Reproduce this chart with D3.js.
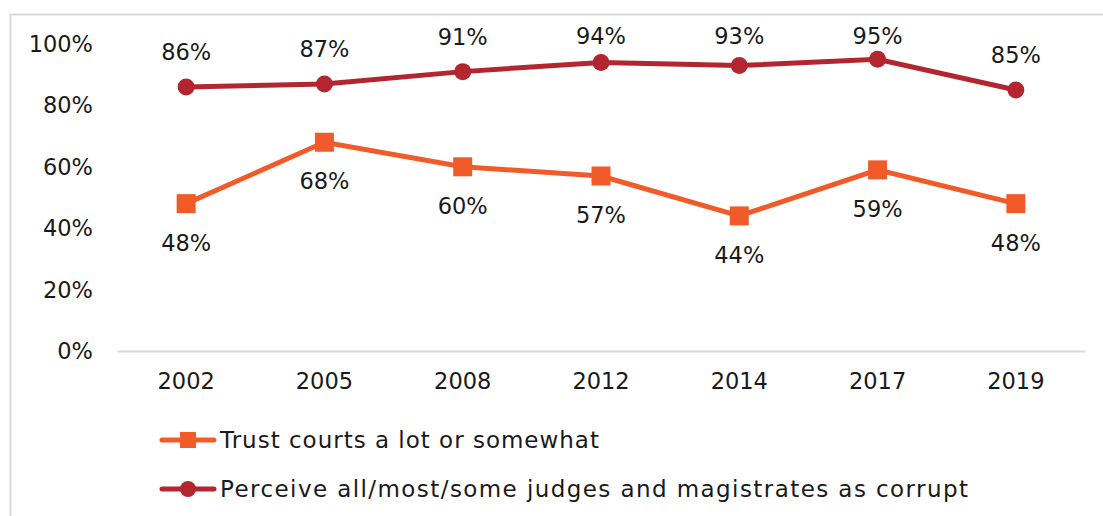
<!DOCTYPE html>
<html><head><meta charset="utf-8">
<script src="https://cdn.jsdelivr.net/npm/d3@7"></script>
<style>body{margin:0;background:#fff}svg{display:block}text{font-family:"DejaVu Sans",sans-serif;fill:#1a1a1a}</style>
</head><body>
<svg id="c" width="1103" height="516"></svg>
<script>
const years = ["2002","2005","2008","2012","2014","2017","2019"];
const trust = [48,68,60,57,44,59,48];
const corrupt = [86,87,91,94,93,95,85];
const yTicks = [0,20,40,60,80,100];
const seriesNames = ["Trust courts a lot or somewhat","Perceive all/most/some judges and magistrates as corrupt"];
const colors = ["#F15A29","#B3262F"];
const FS = "22.5px";

const svg = d3.select("#c");
svg.append("rect").attr("x",10.5).attr("y",14.5).attr("width",1110).attr("height",520)
  .attr("fill","none").attr("stroke","#d9d9d9").attr("stroke-width",2);

const x = d3.scaleBand().domain(years).range([117,1085]);
const y = d3.scaleLinear().domain([0,100]).range([351,44]);
const cx = d => x(d)+x.bandwidth()/2;

svg.append("g").selectAll("text").data(yTicks).join("text")
  .attr("x",93).attr("y",d=>y(d)).attr("text-anchor","end").attr("dominant-baseline","central")
  .style("font-size",FS).text(d=>d+"%");

const xa = svg.append("g").attr("transform","translate(0,351)").call(d3.axisBottom(x).tickSize(0).tickPadding(22));
xa.select(".domain").attr("stroke","#d9d9d9").attr("stroke-width",2);
xa.selectAll("text").style("font-size",FS).style("font-family","DejaVu Sans").attr("fill","#1a1a1a");

const line = d3.line().x((d,i)=>cx(years[i])).y(d=>y(d));

svg.append("path").datum(corrupt).attr("d",line).attr("fill","none").attr("stroke",colors[1]).attr("stroke-width",5);
svg.append("g").selectAll("circle").data(corrupt).join("circle")
  .attr("cx",(d,i)=>cx(years[i])).attr("cy",d=>y(d)).attr("r",8.5).attr("fill",colors[1]);
svg.append("g").selectAll("text").data(corrupt).join("text")
  .attr("x",(d,i)=>cx(years[i])).attr("y",d=>Math.max(y(d)-35,36)).attr("text-anchor","middle").attr("dominant-baseline","central")
  .style("font-size",FS).text(d=>d+"%");

svg.append("path").datum(trust).attr("d",line).attr("fill","none").attr("stroke",colors[0]).attr("stroke-width",5);
svg.append("g").selectAll("rect").data(trust).join("rect")
  .attr("x",(d,i)=>cx(years[i])-9.5).attr("y",d=>y(d)-9.5).attr("width",19).attr("height",19).attr("fill",colors[0]);
svg.append("g").selectAll("text").data(trust).join("text")
  .attr("x",(d,i)=>cx(years[i])).attr("y",d=>y(d)+39).attr("text-anchor","middle").attr("dominant-baseline","central")
  .style("font-size",FS).text(d=>d+"%");

const lg = svg.append("g");
const ly = [440,489];
const lw = [379,748];
seriesNames.forEach((n,i)=>{
  lg.append("line").attr("x1",162).attr("x2",214).attr("y1",ly[i]).attr("y2",ly[i])
    .attr("stroke",colors[i]).attr("stroke-width",5).attr("stroke-linecap","round");
  if(i===0) lg.append("rect").attr("x",180).attr("y",ly[i]-8).attr("width",16).attr("height",16).attr("fill",colors[i]);
  else lg.append("circle").attr("cx",188).attr("cy",ly[i]).attr("r",8).attr("fill",colors[i]);
  lg.append("text").attr("x",220).attr("y",ly[i]).attr("dominant-baseline","central")
    .attr("textLength",lw[i]).attr("lengthAdjust","spacing")
    .style("font-size","23px").text(n);
});
</script>
</body></html>
